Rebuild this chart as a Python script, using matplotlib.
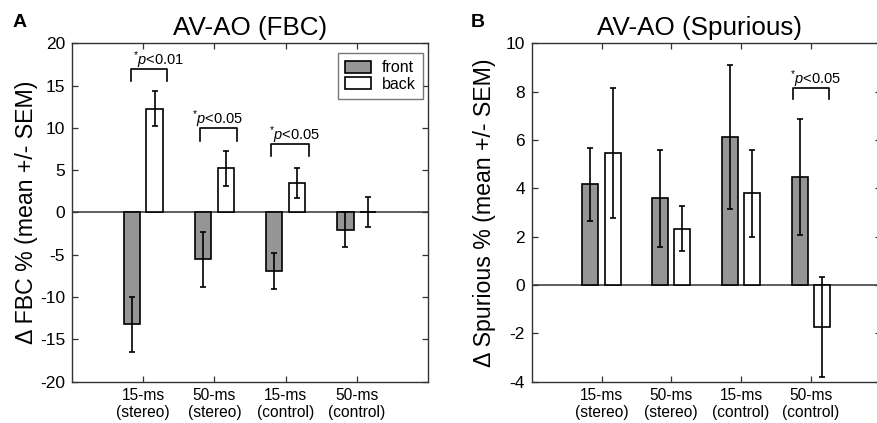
import numpy as np
import matplotlib
matplotlib.use('Agg')
import matplotlib.pyplot as plt

plt.rcParams['font.family'] = ['Liberation Sans', 'DejaVu Sans']
plt.rcParams['mathtext.fontset'] = 'custom'
plt.rcParams['mathtext.rm'] = 'Liberation Sans'
plt.rcParams['mathtext.it'] = 'Liberation Sans:italic'
plt.rcParams['axes.unicode_minus'] = False

# conditions
conditions = ['15-ms\n(stereo)', '50-ms\n(stereo)', '15-ms\n(control)', '50-ms\n(control)']

# panel A: FBC change
fbc_front = [-13.25, -5.55, -6.93, -2.05]
fbc_front_sem = [3.3, 3.29, 2.15, 2.1]
fbc_back = [12.27, 5.2, 3.47, 0.08]
fbc_back_sem = [2.07, 2.07, 1.8, 1.8]

# panel B: spurious change
spu_front = [4.16, 3.58, 6.12, 4.46]
spu_front_sem = [1.52, 2.0, 2.98, 2.41]
spu_back = [5.47, 2.33, 3.8, -1.75]
spu_back_sem = [2.7, 0.93, 1.8, 2.07]

# significance brackets: (x0, x1, y top, y end, label x, label y, label)
sig_a = [(0.83, 1.34, 17.0, 15.6, 1.22, 17.4, r'$^{*}\mathit{p}$<0.01'),
         (1.80, 2.32, 9.94, 8.5, 2.05, 10.5, r'$^{*}\mathit{p}$<0.05'),
         (2.80, 3.33, 8.04, 6.66, 3.13, 8.6, r'$^{*}\mathit{p}$<0.05')]
sig_b = [(3.74, 4.26, 8.16, 7.69, 4.07, 8.33, r'$^{*}\mathit{p}$<0.05')]

front_color = '#959595'
W, H = 877, 423
fig = plt.figure(figsize=(W / 100, H / 100), dpi=100)

ax_a = fig.add_axes([72 / W, 1 - 381.5 / H, 356 / W, 338.2 / H])
ax_b = fig.add_axes([531.7 / W, 1 - 381.5 / H, 349 / W, 338.2 / H])


def draw_panel(ax, front, front_sem, back, back_sem, sigs):
    x = np.arange(1, len(front) + 1)
    off, w = 0.16, 0.23
    ax.bar(x - off, front, w, color=front_color, edgecolor='black', linewidth=1.2,
           label='front', zorder=2)
    ax.bar(x + off, back, w, color='white', edgecolor='black', linewidth=1.2,
           label='back', zorder=2)
    ax.errorbar(x - off, front, yerr=front_sem, fmt='none', ecolor='black',
                elinewidth=1.2, capsize=2.5, capthick=1.2, zorder=3)
    ax.errorbar(x + off, back, yerr=back_sem, fmt='none', ecolor='black',
                elinewidth=1.2, capsize=2.5, capthick=1.2, zorder=3)
    ax.axhline(0, color='#333333', lw=1.1, zorder=1)
    for x0, x1, yt, ye, tx, ty, lab in sigs:
        ax.plot([x0, x0, x1, x1], [ye, yt, yt, ye], color='black', lw=1.2)
        ax.text(tx, ty, lab, ha='center', va='baseline', fontsize=10.5)
    ax.set_xlim(0, 5)
    ax.set_xticks(x)
    ax.set_xticklabels(conditions, fontsize=11.2, linespacing=1.15)
    ax.tick_params(direction='in', top=True, right=True, length=4, width=0.9,
                   color='#333333', pad=5)
    ax.tick_params(axis='y', labelsize=12.5)
    for s in ax.spines.values():
        s.set_color('#333333')
        s.set_linewidth(1.0)


draw_panel(ax_a, fbc_front, fbc_front_sem, fbc_back, fbc_back_sem, sig_a)
ax_a.set_ylim(-20, 20)
ax_a.set_yticks(np.arange(-20, 21, 5))
ax_a.set_title('AV-AO (FBC)', fontsize=18.7, pad=6)
ax_a.set_ylabel('\u0394 FBC % (mean +/- SEM)', fontsize=16.7, labelpad=1.5)
leg = ax_a.legend(loc='upper right', bbox_to_anchor=(0.986, 0.971), borderaxespad=0,
                  fontsize=11.5, frameon=True, fancybox=False, handlelength=1.6,
                  handleheight=0.75, handletextpad=0.7, borderpad=0.45,
                  labelspacing=0.1)
leg.get_frame().set_edgecolor('#555555')
leg.get_frame().set_linewidth(1.0)

draw_panel(ax_b, spu_front, spu_front_sem, spu_back, spu_back_sem, sig_b)
ax_b.set_ylim(-4, 10)
ax_b.set_yticks(np.arange(-4, 11, 2))
ax_b.set_title('AV-AO (Spurious)', fontsize=18.7, pad=6, x=0.481)
ax_b.set_ylabel('\u0394 Spurious % (mean +/- SEM)', fontsize=16.7, labelpad=7)

fig.text(13 / W, 1 - 27 / H, 'A', fontsize=14, fontweight='bold')
fig.text(471 / W, 1 - 27 / H, 'B', fontsize=14, fontweight='bold')

fig.savefig('out.png', dpi=100)
